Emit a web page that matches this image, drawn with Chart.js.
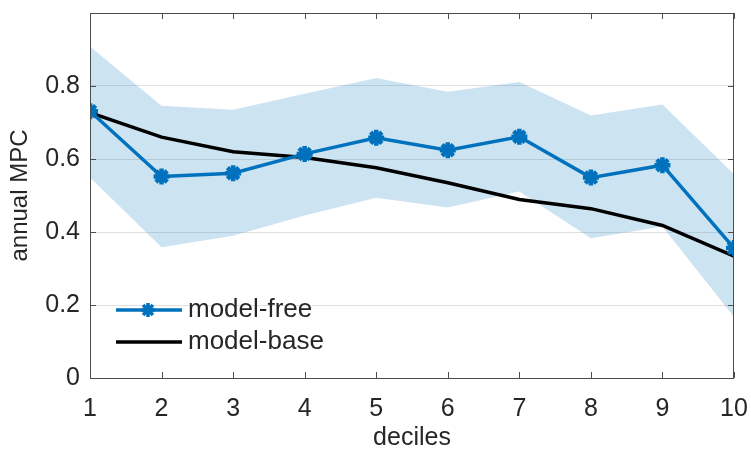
<!DOCTYPE html>
<html>
<head>
<meta charset="utf-8">
<script src="https://cdn.jsdelivr.net/npm/chart.js@4/dist/chart.umd.min.js"></script>
<style>
  html, body { margin: 0; padding: 0; background: #fff; }
  #wrap { width: 751px; height: 454px; }
</style>
</head>
<body>
<div id="wrap"><canvas id="chart" width="751" height="454"></canvas></div>
<script>
// data
const deciles = [1, 2, 3, 4, 5, 6, 7, 8, 9, 10];
const modelFree = [0.731, 0.552, 0.561, 0.614, 0.658, 0.624, 0.661, 0.549, 0.583, 0.356];
const modelBase = [0.727, 0.660, 0.620, 0.604, 0.576, 0.535, 0.489, 0.464, 0.418, 0.334];
const bandUpper = [0.908, 0.746, 0.735, 0.779, 0.822, 0.784, 0.811, 0.719, 0.749, 0.558];
const bandLower = [0.549, 0.358, 0.390, 0.445, 0.494, 0.467, 0.511, 0.383, 0.415, 0.167];
const yTicks = [0, 0.2, 0.4, 0.6, 0.8];
const yTickLabels = ['0', '0.2', '0.4', '0.6', '0.8'];
const xTickLabels = ['1', '2', '3', '4', '5', '6', '7', '8', '9', '10'];

const FONT = "'Liberation Sans', Arial, Helvetica, sans-serif";
const BLUE = '#0072BD';
const AXIS = '#262626';

const pts = arr => arr.map((v, i) => ({ x: deciles[i], y: v }));

// matlab-style box with inward ticks
const boxPlugin = {
    id: 'box',
    afterDatasetsDraw(chart) {
        const { ctx, chartArea: a, scales } = chart;
        ctx.save();
        ctx.strokeStyle = '#4d4d4d';
        ctx.lineWidth = 1;
        ctx.strokeRect(a.left + 0.5, a.top + 0.5, a.right - a.left - 1, a.bottom - a.top);
        ctx.beginPath();
        const tl = 6;
        deciles.forEach(d => {
            const x = Math.round(scales.x.getPixelForValue(d)) + 0.5;
            ctx.moveTo(x, a.bottom); ctx.lineTo(x, a.bottom - tl);
            ctx.moveTo(x, a.top); ctx.lineTo(x, a.top + tl);
        });
        yTicks.concat([1]).forEach(v => {
            const y = Math.round(scales.y.getPixelForValue(v)) + 0.5;
            ctx.moveTo(a.left, y); ctx.lineTo(a.left + tl, y);
            ctx.moveTo(a.right, y); ctx.lineTo(a.right - tl, y);
        });
        ctx.stroke();
        ctx.restore();
    }
};

// legend drawn inside the axes, lower left, no frame
const legendPlugin = {
    id: 'insideLegend',
    afterDraw(chart) {
        const { ctx, chartArea: a } = chart;
        const rows = [
            { ds: chart.data.datasets[3], y: a.bottom - 68, marker: true },
            { ds: chart.data.datasets[2], y: a.bottom - 36, marker: false }
        ];
        ctx.save();
        rows.forEach(r => {
            ctx.strokeStyle = r.ds.borderColor;
            ctx.lineWidth = 3.5;
            ctx.beginPath();
            ctx.moveTo(a.left + 26, r.y);
            ctx.lineTo(a.left + 92, r.y);
            ctx.stroke();
            if (r.marker) {
                Chart.helpers.drawPoint(ctx, {
                    pointStyle: 'star', radius: 7, borderWidth: 4
                }, a.left + 58, r.y);
            }
            ctx.fillStyle = AXIS;
            ctx.font = '26px ' + FONT;
            ctx.textBaseline = 'middle';
            ctx.fillText(r.ds.label, a.left + 98, r.y);
        });
        ctx.restore();
    }
};

new Chart(document.getElementById('chart'), {
    type: 'line',
    data: {
        datasets: [
            {
                label: 'band-lower', data: pts(bandLower),
                borderWidth: 0, pointRadius: 0, fill: false, order: 3
            },
            {
                label: 'band-upper', data: pts(bandUpper),
                borderWidth: 0, pointRadius: 0, fill: '-1',
                backgroundColor: 'rgba(0, 114, 189, 0.2)', order: 3
            },
            {
                label: 'model-base', data: pts(modelBase),
                borderColor: '#000', borderWidth: 3.5, pointRadius: 0,
                fill: false, order: 1
            },
            {
                label: 'model-free', data: pts(modelFree),
                borderColor: BLUE, backgroundColor: BLUE, borderWidth: 3.5,
                pointStyle: 'star', pointRadius: 8, pointBorderWidth: 4.5,
                pointBorderColor: BLUE, fill: false, order: 0
            }
        ]
    },
    options: {
        responsive: false,
        animation: false,
        events: [],
        layout: { padding: { top: 13, right: 17, left: 0, bottom: 0 } },
        plugins: { legend: { display: false }, tooltip: { enabled: false } },
        scales: {
            x: {
                type: 'linear', min: 1, max: 10,
                afterBuildTicks: s => { s.ticks = deciles.map(v => ({ value: v })); },
                afterFit: s => { s.height = 76; s.paddingLeft = 0; s.paddingRight = 0; },
                grid: { display: false, drawTicks: false },
                border: { display: false },
                ticks: {
                    padding: 16, color: AXIS, maxRotation: 0, autoSkip: false,
                    font: { family: FONT, size: 25 },
                    callback: (v, i) => xTickLabels[i]
                },
                title: {
                    display: true, text: 'deciles', color: AXIS,
                    font: { family: FONT, size: 25 }, padding: { top: 1, bottom: 1 }
                }
            },
            y: {
                min: 0, max: 1,
                afterBuildTicks: s => { s.ticks = yTicks.map(v => ({ value: v })); },
                afterFit: s => { s.width = 90; s.paddingTop = 0; s.paddingBottom = 0; },
                grid: { color: 'rgba(0,0,0,0.12)', drawTicks: false, lineWidth: 1 },
                border: { display: false },
                ticks: {
                    padding: 10, color: AXIS,
                    font: { family: FONT, size: 25 },
                    callback: (v, i) => yTickLabels[i]
                },
                title: {
                    display: true, text: 'annual MPC', color: AXIS,
                    font: { family: FONT, size: 24 }, padding: { top: 6, bottom: 6 }
                }
            }
        }
    },
    plugins: [boxPlugin, legendPlugin]
});
</script>
</body>
</html>
